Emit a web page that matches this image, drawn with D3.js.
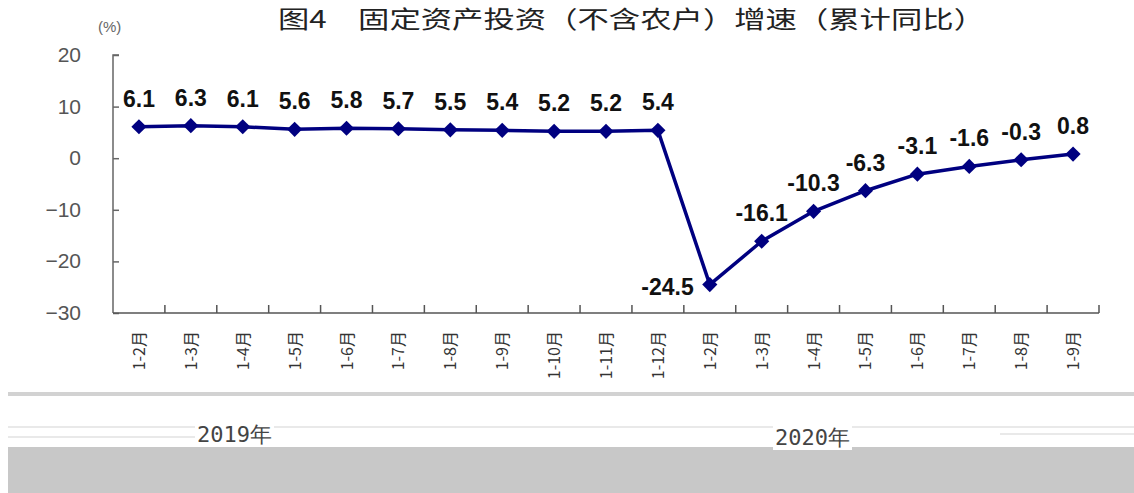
<!DOCTYPE html>
<html>
  <head>
    <meta charset="utf-8">
    <title>固定资产投资增速</title>
    <script src="https://cdn.jsdelivr.net/npm/d3@7"></script>
    <style type="text/css">

html, body {
  margin: 0;
  background: #fff;
}

svg {
  display: block;
  font-family: "Liberation Sans", Arial, sans-serif;
}

.cjk {
  font-family: "Noto Sans CJK SC", sans-serif;
}

    </style>
  </head>
  <body>
    <script type="text/javascript">

var months2019 = ["1-2月", "1-3月", "1-4月", "1-5月", "1-6月", "1-7月", "1-8月", "1-9月", "1-10月", "1-11月", "1-12月"];
var values2019 = [6.1, 6.3, 6.1, 5.6, 5.8, 5.7, 5.5, 5.4, 5.2, 5.2, 5.4];
var months2020 = ["1-2月", "1-3月", "1-4月", "1-5月", "1-6月", "1-7月", "1-8月", "1-9月"];
var values2020 = [-24.5, -16.1, -10.3, -6.3, -3.1, -1.6, -0.3, 0.8];
var yTicks = [20, 10, 0, -10, -20, -30];
var years = ["2019年", "2020年"];

var data = months2019.map(function(m, i) { return {key: "2019-" + i, month: m, value: values2019[i], year: 0}; })
  .concat(months2020.map(function(m, i) { return {key: "2020-" + i, month: m, value: values2020[i], year: 1}; }));

var width = 1134, height = 493;

var svg = d3.select("body").append("svg")
    .attr("width", width)
    .attr("height", height);

var x = d3.scaleBand()
    .domain(data.map(function(d) { return d.key; }))
    .range([113, 1099]);

var y = d3.scaleLinear()
    .domain([-30, 20])
    .range([313, 55]);

// bottom decoration of the scanned picture
svg.append("rect")
    .attr("x", 8).attr("y", 392)
    .attr("width", width - 8).attr("height", 4)
    .attr("fill", "#d2d2d2");

svg.append("rect")
    .attr("x", 8).attr("y", 447)
    .attr("width", width - 8).attr("height", height - 447)
    .attr("fill", "#c8c8c8");

[[8, 437, 197], [8, 427, 1134], [1000, 434, 1134]].forEach(function(l) {
  svg.append("line")
      .attr("x1", l[0]).attr("x2", l[2])
      .attr("y1", l[1]).attr("y2", l[1])
      .attr("stroke", "#e2e2e2")
      .attr("stroke-width", 1.5);
});

svg.selectAll("text.year")
    .data(years)
  .enter().append("text")
    .attr("class", "year")
    .attr("x", function(d, i) { return i === 0 ? 197 : 775; })
    .attr("y", function(d, i) { return i === 0 ? 442 : 445; })
    .attr("fill", "#444")
    .style("font-family", "'DejaVu Sans Mono', monospace")
    .style("font-size", "22px")
    .text(function(d) { return d; })
    .each(function() {
      var b = this.getBBox();
      svg.insert("rect", "text.year")
          .attr("x", b.x - 2).attr("y", b.y)
          .attr("width", b.width + 4).attr("height", b.height)
          .attr("fill", "#fff");
    });

// title
svg.append("text")
    .attr("class", "cjk")
    .attr("x", 278)
    .attr("y", 28)
    .attr("textLength", 707)
    .attr("lengthAdjust", "spacingAndGlyphs")
    .attr("fill", "#222")
    .style("font-size", "24px")
    .text("图4　固定资产投资（不含农户）增速（累计同比）");

svg.append("text")
    .attr("x", 98)
    .attr("y", 32)
    .attr("fill", "#666")
    .style("font-size", "15px")
    .text("(%)");

// y axis
var yAxis = svg.append("g")
    .attr("transform", "translate(113,0)")
    .call(d3.axisRight(y).tickValues(yTicks).tickSize(6).tickFormat(""));

yAxis.select(".domain").attr("stroke", "#666").attr("stroke-width", 1.5).attr("d", "M6,55H0V313");
yAxis.selectAll(".tick line").attr("stroke", "#666").attr("stroke-width", 1.5);

svg.selectAll("text.ytick")
    .data(yTicks)
  .enter().append("text")
    .attr("class", "ytick")
    .attr("x", 81)
    .attr("y", function(d) { return y(d) + 7; })
    .attr("text-anchor", "end")
    .attr("fill", "#555")
    .style("font-size", "21px")
    .text(function(d) { return d < 0 ? "\u2212" + (-d) : d; });

// x axis with ticks between categories
var bounds = x.domain().map(function(k) { return x(k); }).concat([x.range()[1]]);

svg.append("line")
    .attr("x1", 113).attr("x2", 1099)
    .attr("y1", 313).attr("y2", 313)
    .attr("stroke", "#555")
    .attr("stroke-width", 1.5);

svg.selectAll("line.xtick")
    .data(bounds.slice(1))
  .enter().append("line")
    .attr("class", "xtick")
    .attr("x1", function(d) { return d; })
    .attr("x2", function(d) { return d; })
    .attr("y1", 313).attr("y2", 305)
    .attr("stroke", "#555")
    .attr("stroke-width", 1.5);

svg.selectAll("text.month")
    .data(data)
  .enter().append("text")
    .attr("class", "month cjk")
    .attr("transform", function(d) {
      return "translate(" + (x(d.key) + x.bandwidth() / 2 + 6) + ",331) rotate(-90)";
    })
    .attr("text-anchor", "end")
    .attr("fill", "#333")
    .style("font-size", "16px")
    .text(function(d) { return d.month; });

// line and markers
var cx = function(d) { return x(d.key) + x.bandwidth() / 2; };

svg.append("path")
    .datum(data)
    .attr("fill", "none")
    .attr("stroke", "#000080")
    .attr("stroke-width", 3.5)
    .attr("stroke-linejoin", "round")
    .attr("d", d3.line().x(cx).y(function(d) { return y(d.value); }));

svg.selectAll("path.marker")
    .data(data)
  .enter().append("path")
    .attr("class", "marker")
    .attr("d", d3.symbol(d3.symbolSquare, 115))
    .attr("transform", function(d) { return "translate(" + cx(d) + "," + y(d.value) + ") rotate(45)"; })
    .attr("fill", "#000080");

// value labels
svg.selectAll("text.value")
    .data(data)
  .enter().append("text")
    .attr("class", "value")
    .attr("x", function(d) { return d.value === -24.5 ? cx(d) - 16 : cx(d); })
    .attr("y", function(d) { return d.value === -24.5 ? y(d.value) + 10 : y(d.value) - 20; })
    .attr("text-anchor", function(d) { return d.value === -24.5 ? "end" : "middle"; })
    .attr("fill", "#111")
    .style("font-size", "23px")
    .style("font-weight", "bold")
    .text(function(d) { return d.value.toFixed(1); });

    </script>
  </body>
</html>
